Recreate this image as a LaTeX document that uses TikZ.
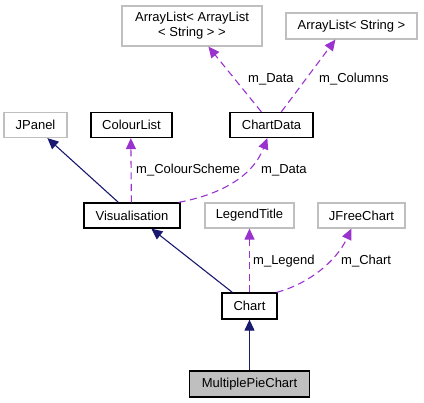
\documentclass[tikz,border=0pt]{standalone}
\usepackage{fontspec}
\setmainfont{Liberation Sans}
\usetikzlibrary{arrows.meta,calc}
\definecolor{edgepurple}{HTML}{9A32CD}
\definecolor{edgenavy}{HTML}{191970}
\definecolor{boxgray}{HTML}{BFBFBF}
\tikzset{
  every node/.style={font=\fontsize{13}{15}\selectfont},
  gbox/.style={draw=boxgray, line width=1.2pt, fill=white, inner sep=2pt, align=center},
  bbox/.style={draw=black, line width=1.3pt, fill=white, inner sep=2pt, align=center},
  cbox/.style={draw=black, line width=1.3pt, fill=boxgray, inner sep=2pt, align=center},
  inherit/.style={draw=edgenavy, line width=1.1pt, -{Triangle[length=11pt,width=10pt]}},
  usage/.style={draw=edgepurple, line width=1.1pt, dash pattern=on 7pt off 4.5pt, -{Triangle[length=11pt,width=10pt]}},
  lbl/.style={anchor=west, inner sep=0pt}
}
\begin{document}
\begin{tikzpicture}[x=1pt,y=-1pt]
\useasboundingbox (0,0) rectangle (424,403);
% nodes
\node[gbox, minimum width=140, minimum height=40] (aal) at (192,26) {ArrayList< ArrayList\\< String > >};
\node[gbox, minimum width=131, minimum height=26] (als) at (351.5,26) {ArrayList< String >};
\node[bbox, minimum width=83, minimum height=25] (cd) at (271.5,125) {ChartData};
\node[bbox, minimum width=81, minimum height=25] (cl) at (131.5,125) {ColourList};
\node[gbox, minimum width=63, minimum height=25] (jp) at (35.5,125) {JPanel};
\node[bbox, minimum width=96, minimum height=25] (vis) at (132,215.5) {Visualisation};
\node[gbox, minimum width=89, minimum height=25] (lt) at (249.5,215.5) {LegendTitle};
\node[gbox, minimum width=87, minimum height=25] (jfc) at (361.5,215.5) {JFreeChart};
\node[bbox, minimum width=55, minimum height=26] (ch) at (249.5,306) {Chart};
\node[cbox, minimum width=120, minimum height=26] (mpc) at (249.5,384) {MultiplePieChart};
% edges
\draw[usage] ($(cd.north west)+(32,0)$) -- ($(aal.south west)+(87,0)$);
\draw[usage] ($(cd.north west)+(52,0)$) -- ($(als.south west)+(50,0)$);
\draw[inherit] ($(vis.north west)+(35,0)$) -- ($(jp.south west)+(44,0)$);
\draw[usage] ($(vis.north west)+(48,0)$) -- ($(cl.south west)+(40.5,0)$);
\draw[usage] ($(vis.north east)+(-2,0)$) .. controls (218,195) and (252,178) .. ($(cd.south west)+(38,0)$);
\draw[inherit] ($(ch.north west)+(11,0)$) -- ($(vis.south west)+(68,0)$);
\draw[usage] (ch.north) -- (lt.south);
\draw[usage] ($(ch.north east)+(-1,0)$) .. controls (308,284) and (336,262) .. ($(jfc.south west)+(34,0)$);
\draw[inherit] (mpc.north) -- (ch.south);
% labels
\node[lbl] (l1) at (248,79) {m\_Data};
\node[lbl] (l2) at (319,79) {m\_Columns};
\node[lbl] (l3) at (136,170) {m\_ColourScheme};
\node[lbl] (l4) at (261,170) {m\_Data};
\node[lbl] (l5) at (253,261) {m\_Legend};
\node[lbl] (l6) at (341,261) {m\_Chart};
\end{tikzpicture}
\end{document}
